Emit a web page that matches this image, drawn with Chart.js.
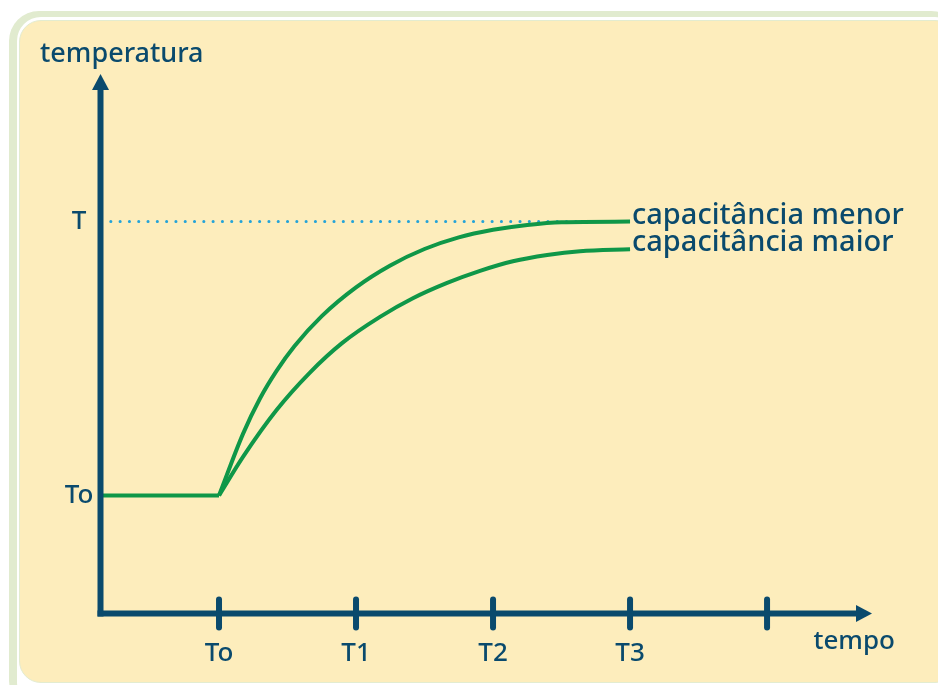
<!DOCTYPE html>
<html>
<head>
<meta charset="utf-8">
<script src="https://cdn.jsdelivr.net/npm/chart.js@4.4.1/dist/chart.umd.min.js"></script>
<style>
  html, body { margin: 0; padding: 0; background: #fff; width: 938px; height: 685px; overflow: hidden; }
  #frame { position: absolute; left: 9px; top: 11px; width: 952px; height: 700px; background: #e1ebcf; border-radius: 30px; }
  #ring { position: absolute; left: 17px; top: 17px; width: 942px; height: 690px; background: #fff; border-radius: 24px; }
  #panel { position: absolute; left: 19px; top: 20px; width: 938px; height: 663px; background: #fdedbc;
           border: 1px solid #e3ecd0; border-radius: 22px; box-sizing: border-box; }
  canvas { position: absolute; left: 0; top: 0; }
</style>
</head>
<body>
<div id="frame"></div>
<div id="ring"></div>
<div id="panel"></div>
<canvas id="chart" width="938" height="685"></canvas>
<script>
// time ticks (To, T1, T2, T3 and one unlabeled) and temperature levels
const tickValues = [1, 2, 3, 4, 5];
const tickLabels = ['To', 'T1', 'T2', 'T3', ''];
const levelValues = [0, 1];
const levelLabels = ['To', 'T'];
const seriesNames = ['capacitância menor', 'capacitância maior'];

// temperature 0 = To, 1 = T
const flatTime = [0.135, 1];
const flatTemp = [0, 0];
const menorTime = [1, 1.175, 1.3, 1.42, 1.55, 1.75, 2.0, 2.25, 2.5, 2.75, 3.0, 3.25, 3.5, 4.0];
const menorTemp = [0, 0.225, 0.355, 0.455, 0.545, 0.655, 0.76, 0.84, 0.90, 0.9425, 0.97, 0.988, 0.998, 1.0];
const maiorTime = [1, 1.175, 1.42, 1.66, 1.9, 2.175, 2.415, 2.665, 2.905, 3.145, 3.395, 3.635, 4.0];
const maiorTemp = [0, 0.141, 0.312, 0.447, 0.557, 0.652, 0.72, 0.776, 0.82, 0.855, 0.878, 0.892, 0.899];
const refTime = [0.21, 4.0];
const refTemp = [1, 1];

const axisColor = '#0a4a6d';
const curveColor = '#0f9748';
const font = '"Noto Sans", sans-serif';

const toPoints = (xs, ys) => xs.map((x, i) => ({ x, y: ys[i] }));

const axesPlugin = {
    id: 'axes',
    afterDatasetsDraw(chart) {
        const { ctx, chartArea: a, scales: { x, y } } = chart;
        const x0 = x.getPixelForValue(x.min);
        const y0 = y.getPixelForValue(y.min);
        ctx.save();
        ctx.strokeStyle = axisColor;
        ctx.fillStyle = axisColor;
        ctx.lineWidth = 6;

        // vertical axis with arrow
        ctx.beginPath();
        ctx.moveTo(x0, y0 + 3);
        ctx.lineTo(x0, a.top + 14);
        ctx.stroke();
        ctx.beginPath();
        ctx.moveTo(x0, a.top);
        ctx.lineTo(x0 - 8.5, a.top + 16);
        ctx.lineTo(x0 + 8.5, a.top + 16);
        ctx.closePath();
        ctx.fill();

        // horizontal axis with arrow
        ctx.beginPath();
        ctx.moveTo(x0 - 3, y0);
        ctx.lineTo(a.right - 14, y0);
        ctx.stroke();
        ctx.beginPath();
        ctx.moveTo(a.right, y0);
        ctx.lineTo(a.right - 16, y0 - 8.5);
        ctx.lineTo(a.right - 16, y0 + 8.5);
        ctx.closePath();
        ctx.fill();

        // tick marks across the time axis
        ctx.lineCap = 'round';
        x.ticks.forEach(t => {
            const px = x.getPixelForValue(t.value);
            ctx.beginPath();
            ctx.moveTo(px, y0 - 14);
            ctx.lineTo(px, y0 + 14);
            ctx.stroke();
        });

        // axis titles
        ctx.font = '500 27px ' + font;
        ctx.textBaseline = 'alphabetic';
        ctx.textAlign = 'left';
        ctx.fillText('temperatura', x0 - 60.5, a.top - 12);
        ctx.font = '500 26px ' + font;
        ctx.textAlign = 'right';
        ctx.fillText('tempo', a.right + 23, y0 + 35.5);

        // curve names at the end of each curve
        ctx.font = '500 29px ' + font;
        ctx.textAlign = 'left';
        chart.data.datasets.forEach(ds => {
            if (!ds.label) return;
            const last = ds.data[ds.data.length - 1];
            ctx.fillText(ds.label, x.getPixelForValue(last.x) + 2, y.getPixelForValue(last.y) + 2);
        });
        ctx.restore();
    }
};

new Chart(document.getElementById('chart'), {
    type: 'line',
    data: {
        datasets: [
            { data: toPoints(flatTime, flatTemp), borderColor: curveColor, borderWidth: 4, order: 1 },
            { label: seriesNames[0], data: toPoints(menorTime, menorTemp), borderColor: curveColor, borderWidth: 4,
              cubicInterpolationMode: 'monotone', order: 1 },
            { label: seriesNames[1], data: toPoints(maiorTime, maiorTemp), borderColor: curveColor, borderWidth: 4,
              cubicInterpolationMode: 'monotone', order: 1 },
            { data: toPoints(refTime, refTemp), borderColor: '#24a3d8', borderWidth: 3,
              borderDash: [0.1, 9.2], borderCapStyle: 'round', order: 5 }
        ]
    },
    options: {
        responsive: false,
        animation: false,
        layout: { padding: { top: 74, right: 66, left: 0, bottom: 0 } },
        elements: { point: { radius: 0 }, line: { fill: false } },
        plugins: { legend: { display: false }, tooltip: { enabled: false } },
        scales: {
            x: {
                type: 'linear',
                min: 0.135,
                max: 5.766,
                afterFit: s => { s.height = 71.5; },
                afterBuildTicks: s => { s.ticks = tickValues.map(v => ({ value: v })); },
                grid: { display: false },
                border: { display: false },
                ticks: {
                    autoSkip: false,
                    maxRotation: 0,
                    padding: 16,
                    color: axisColor,
                    font: { family: font, size: 26, weight: '500' },
                    callback: (v, i) => tickLabels[i]
                }
            },
            y: {
                type: 'linear',
                min: -0.431,
                max: 1.539,
                afterFit: s => { s.width = 100.5; },
                afterBuildTicks: s => { s.ticks = levelValues.map(v => ({ value: v })); },
                grid: { display: false },
                border: { display: false },
                ticks: {
                    crossAlign: 'center',
                    padding: -1,
                    color: axisColor,
                    font: { family: font, size: 26, weight: '500' },
                    callback: (v, i) => levelLabels[i]
                }
            }
        }
    },
    plugins: [axesPlugin]
});
</script>
</body>
</html>
